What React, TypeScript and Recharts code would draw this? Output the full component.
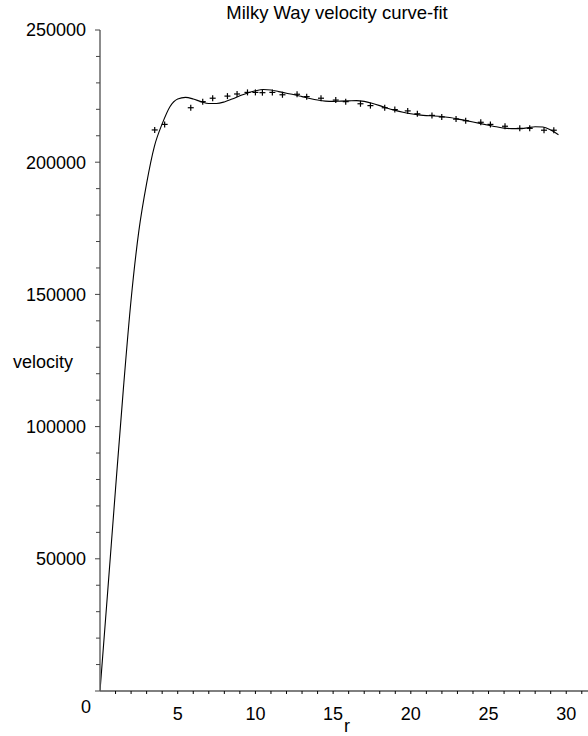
import React from "react";
import { ComposedChart, Line, Scatter, XAxis, YAxis, Label } from "recharts";

// Observed data (r in kpc, velocity)
const pointR = [3.52, 4.16, 5.84, 6.61, 7.25, 8.2, 8.82, 9.49, 10.0, 10.45, 11.09, 11.74, 12.68, 13.3, 14.22, 15.17, 15.81, 16.76, 17.4, 18.32, 18.97, 19.8, 20.42, 21.36, 21.99, 22.91, 23.53, 24.5, 25.12, 26.06, 27.01, 27.65, 28.57, 29.2];
const pointV = [212200, 214300, 220600, 222900, 224200, 225000, 225800, 226400, 226400, 226300, 226400, 225500, 225700, 224800, 224200, 223500, 222900, 222100, 221400, 220600, 219900, 219400, 218300, 217700, 217100, 216300, 215700, 215100, 214300, 213600, 212800, 212800, 212100, 212100];

// Fitted curve samples
const fitR = [0, 0.5, 1, 1.5, 2, 2.5, 3, 3.5, 4, 4.5, 5, 5.5, 6, 6.5, 7, 7.5, 8, 8.5, 9, 9.5, 10, 10.5, 11, 11.5, 12, 12.5, 13, 13.5, 14, 14.5, 15, 15.5, 16, 16.5, 17, 17.5, 18, 18.5, 19, 19.5, 20, 20.5, 21, 21.5, 22, 22.5, 23, 23.5, 24, 24.5, 25, 25.5, 26, 26.5, 27, 27.5, 28, 28.5, 29, 29.5];
const fitV = [0, 38000, 76500, 114000, 148000, 174000, 192000, 206000, 214500, 221000, 223900, 224500, 223900, 222900, 222200, 222200, 222800, 223900, 225100, 226200, 227000, 227500, 227300, 226700, 226100, 225500, 224800, 224100, 223500, 223100, 223000, 223100, 223200, 223300, 223000, 222300, 221400, 220400, 219600, 218900, 218300, 217900, 217600, 217500, 217300, 216900, 216400, 215800, 215200, 214600, 214000, 213400, 212900, 212700, 212700, 213000, 213400, 213300, 212200, 210400];

const xTicks = [0,1,2,3,4,5,6,7,8,9,10,11,12,13,14,15,16,17,18,19,20,21,22,23,24,25,26,27,28,29,30,31];
const yTicks = [0,10000,20000,30000,40000,50000,60000,70000,80000,90000,100000,110000,120000,130000,140000,150000,160000,170000,180000,190000,200000,210000,220000,230000,240000,250000];

const TITLE = "Milky Way velocity curve-fit";
const X_LABEL = "r";
const Y_LABEL = "velocity";

const pointData = pointR.map((r, i) => ({ r, v: pointV[i] }));
const fitData = fitR.map((r, i) => ({ r, v: fitV[i] }));

const FONT = "'Liberation Sans', Arial, Helvetica, sans-serif";
const FS = 18;

const Cross = (props: any) => {
  const { cx, cy } = props;
  if (cx == null || cy == null) return null;
  return (
    <g>
      <line x1={cx - 3} x2={cx + 3} y1={cy} y2={cy} stroke="#000" strokeWidth={1.2} />
      <line x1={cx} x2={cx} y1={cy - 3} y2={cy + 3} stroke="#000" strokeWidth={1.2} />
    </g>
  );
};

const YTick = (props: any) => {
  const { x, y, payload } = props;
  const v = payload.value;
  const major = v % 50000 === 0;
  return (
    <g>
      <line x1={x - (major ? 5 : 4)} x2={x} y1={y} y2={y} stroke="#444" strokeWidth={1} />
      {major && v !== 0 ? (
        <text x={x - 14} y={y} dy="0.355em" textAnchor="end" fontFamily={FONT} fontSize={FS} fill="#000">
          {v}
        </text>
      ) : null}
    </g>
  );
};

const XTick = (props: any) => {
  const { x, y, payload } = props;
  const v = payload.value;
  const major = v % 5 === 0;
  return (
    <g>
      {v !== 0 ? <line x1={x} x2={x} y1={y} y2={y + 3} stroke="#000" strokeWidth={1} /> : null}
      {major && v !== 0 ? (
        <text x={x} y={y + 29} textAnchor="middle" fontFamily={FONT} fontSize={FS} fill="#000">
          {v}
        </text>
      ) : null}
    </g>
  );
};

export default function App() {
  return (
    <div style={{ position: "absolute", left: 0, top: 0, width: 588, height: 736, background: "#fff" }}>
      <ComposedChart width={588} height={736} margin={{ top: 30, right: 0, bottom: 0, left: 40 }}>
        <XAxis
          type="number"
          dataKey="r"
          domain={[0, 31.4]}
          ticks={xTicks}
          allowDataOverflow
          height={45}
          tickSize={0}
          tickMargin={0}
          tickLine={false}
          tick={<XTick />}
          axisLine={{ stroke: "#000", strokeWidth: 1 }}
          interval={0}
        >
          <Label
            content={() => (
              <g>
                <text x={347} y={732} textAnchor="middle" fontFamily={FONT} fontSize={FS} fill="#000">
                  {X_LABEL}
                </text>
                <text x={86} y={713} textAnchor="middle" fontFamily={FONT} fontSize={FS} fill="#000">
                  0
                </text>
              </g>
            )}
          />
        </XAxis>
        <YAxis
          type="number"
          dataKey="v"
          domain={[0, 250000]}
          ticks={yTicks}
          width={60}
          tickSize={0}
          tickMargin={0}
          tickLine={false}
          tick={<YTick />}
          axisLine={{ stroke: "#666", strokeWidth: 1.5 }}
          interval={0}
        >
          <Label
            content={() => (
              <g>
                <text x={43} y={368} textAnchor="middle" fontFamily={FONT} fontSize={FS} fill="#000">
                  {Y_LABEL}
                </text>
                <text x={337} y={19} textAnchor="middle" fontFamily={FONT} fontSize={18.5} fill="#000">
                  {TITLE}
                </text>
              </g>
            )}
          />
        </YAxis>
        <Line
          data={fitData}
          dataKey="v"
          type="monotone"
          stroke="#000"
          strokeWidth={1.1}
          dot={false}
          activeDot={false}
          isAnimationActive={false}
        />
        <Scatter data={pointData} dataKey="v" shape={<Cross />} isAnimationActive={false} />
      </ComposedChart>
    </div>
  );
}
